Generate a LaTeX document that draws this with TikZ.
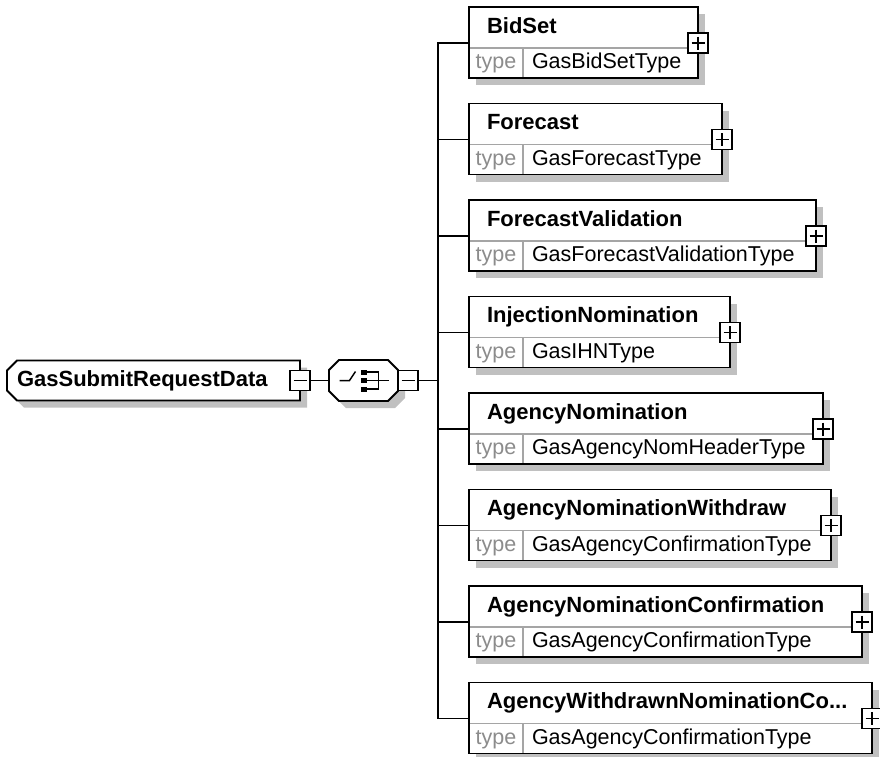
\documentclass[tikz,border=0pt]{standalone}
\usepackage{fontspec}
\setsansfont{Liberation Sans}
\usepackage{tikz}
\usetikzlibrary{positioning}
\usetikzlibrary{shadows}
\definecolor{shadowgray}{RGB}{192,192,192}
\definecolor{divgray}{RGB}{165,165,165}
\definecolor{labelgray}{RGB}{140,140,140}
\tikzset{
  every picture/.style={font={\sffamily}, line width=1.8pt},
  boxshadow/.style={general shadow={fill=shadowgray, shadow xshift=7pt, shadow yshift=-7pt}}}

\begin{document}
\begin{tikzpicture}[x=1pt, y=-1pt,
    root/.style={minimum width=293pt, minimum height=40pt, inner sep=0pt, outer sep=0pt,
      text width=273pt, align=left, text height=16pt, text depth=5pt,
      font={\sffamily\bfseries\fontsize{22pt}{24pt}\selectfont}},
    compositor/.style={minimum width=69pt, minimum height=41pt, inner sep=0pt, outer sep=0pt},
    outline/.style={draw, fill=white, boxshadow},
    elem/.style={draw, fill=white, boxshadow, anchor=north west, minimum height=41pt,
      inner xsep=18pt, inner ysep=0pt, outer sep=0pt, text width=#1, align=left,
      text height=16pt, text depth=5pt,
      font={\sffamily\bfseries\fontsize{22pt}{24pt}\selectfont}},
    typelbl/.style={draw=divgray, line width=1.5pt, fill=white, boxshadow, anchor=north west,
      minimum width=54pt, minimum height=30pt, inner sep=0pt, outer sep=0pt, text=labelgray,
      text height=15.5pt, text depth=4.5pt,
      font={\sffamily\fontsize{21.5pt}{24pt}\selectfont}},
    typeval/.style={draw=divgray, line width=1.5pt, fill=white, boxshadow, anchor=west,
      minimum height=30pt, inner xsep=9pt, inner ysep=0pt, outer sep=0pt, text width=#1,
      align=left, text height=15.5pt, text depth=4.5pt,
      font={\sffamily\fontsize{21.5pt}{24pt}\selectfont}},
    frame/.style={draw},
    expand/.style={draw, fill=white, minimum size=20pt, inner sep=0pt, outer sep=0pt, line width=1.5pt,
      path picture={\draw[line width=1.6pt]
        ([xshift=3.5pt]path picture bounding box.west) -- ([xshift=-3.5pt]path picture bounding box.east)
        ([yshift=-3.5pt]path picture bounding box.north) -- ([yshift=3.5pt]path picture bounding box.south);}},
    collapse/.style={draw, fill=white, minimum size=20pt, inner sep=0pt, outer sep=0pt, line width=1.5pt,
      path picture={\draw[line width=1.6pt]
        ([xshift=3.5pt]path picture bounding box.west) -- ([xshift=-3.5pt]path picture bounding box.east);}}]

    \useasboundingbox (0,0) rectangle (880,756);

    \node[root] (Root) at (7,380.5) [anchor=west] {};
    \path[outline] ([xshift=10pt]Root.north west) -- (Root.north east) -- (Root.south east)
      -- ([xshift=10pt]Root.south west) -- ([yshift=10pt]Root.south west)
      -- ([yshift=-10pt]Root.north west) -- cycle;
    \node[root] (RootT) at (Root.center) {GasSubmitRequestData};
    \node[collapse] (RootM) at (Root.east) {};

    \node[compositor] (Seq) [right=19pt of RootM] {};
    \path[outline] ([xshift=10pt]Seq.north west) -- ([xshift=-10pt]Seq.north east)
      -- ([yshift=-10pt]Seq.north east) -- ([yshift=10pt]Seq.south east)
      -- ([xshift=-10pt]Seq.south east) -- ([xshift=10pt]Seq.south west)
      -- ([yshift=10pt]Seq.south west) -- ([yshift=-10pt]Seq.north west) -- cycle;
    \node[collapse] (SeqM) [right=0pt of Seq] {};
    \coordinate (Bus) at ([xshift=20pt]SeqM.east);

    \draw[line width=1.5pt] ([shift={(-24,0)}]Seq.center) -- ([shift={(-14,0)}]Seq.center)
      -- ([shift={(-8,-9)}]Seq.center);
    \fill ([shift={(-3,-11)}]Seq.center) rectangle ([shift={(3,-6)}]Seq.center);
    \fill ([shift={(-3,-2.5)}]Seq.center) rectangle ([shift={(3,2.5)}]Seq.center);
    \fill ([shift={(-3,6)}]Seq.center) rectangle ([shift={(3,11)}]Seq.center);
    \draw[line width=1.5pt] ([shift={(3,-8.5)}]Seq.center) -| ([shift={(15,8.5)}]Seq.center)
      -- ([shift={(3,8.5)}]Seq.center);
    \draw[line width=1.5pt] ([shift={(3,0)}]Seq.center) -- ([shift={(25,0)}]Seq.center);

    \node[elem=193pt] (BidSet) at (469,7) {BidSet};
    \node[typelbl] (BidSetL) at (BidSet.south west) {type};
    \node[typeval=157pt] (BidSetV) [right=0pt of BidSetL] {GasBidSetType};

    \node[elem=217pt] (Forecast) [below=25.5pt of BidSetL.south west, anchor=north west] {Forecast};
    \node[typelbl] (ForecastL) at (Forecast.south west) {type};
    \node[typeval=181pt] (ForecastV) [right=0pt of ForecastL] {GasForecastType};

    \node[elem=311pt] (FcValid) [below=25.5pt of ForecastL.south west, anchor=north west] {ForecastValidation};
    \node[typelbl] (FcValidL) at (FcValid.south west) {type};
    \node[typeval=275pt] (FcValidV) [right=0pt of FcValidL] {GasForecastValidationType};

    \node[elem=225pt] (InjNom) [below=25.5pt of FcValidL.south west, anchor=north west] {InjectionNomination};
    \node[typelbl] (InjNomL) at (InjNom.south west) {type};
    \node[typeval=189pt] (InjNomV) [right=0pt of InjNomL] {GasIHNType};

    \node[elem=318pt] (AgNom) [below=25.5pt of InjNomL.south west, anchor=north west] {AgencyNomination};
    \node[typelbl] (AgNomL) at (AgNom.south west) {type};
    \node[typeval=282pt] (AgNomV) [right=0pt of AgNomL] {GasAgencyNomHeaderType};

    \node[elem=326pt] (AgNomW) [below=25.5pt of AgNomL.south west, anchor=north west] {AgencyNominationWithdraw};
    \node[typelbl] (AgNomWL) at (AgNomW.south west) {type};
    \node[typeval=290pt] (AgNomWV) [right=0pt of AgNomWL] {GasAgencyConfirmationType};

    \node[elem=357pt] (AgNomC) [below=25.5pt of AgNomWL.south west, anchor=north west] {AgencyNominationConfirmation};
    \node[typelbl] (AgNomCL) at (AgNomC.south west) {type};
    \node[typeval=321pt] (AgNomCV) [right=0pt of AgNomCL] {GasAgencyConfirmationType};

    \node[elem=367pt] (AgWNomC) [below=25.5pt of AgNomCL.south west, anchor=north west] {AgencyWithdrawnNominationCo...};
    \node[typelbl] (AgWNomCL) at (AgWNomC.south west) {type};
    \node[typeval=331pt] (AgWNomCV) [right=0pt of AgWNomCL] {GasAgencyConfirmationType};

    \path[frame] (BidSet.north west) rectangle (BidSetV.south east);
    \path[frame] (Forecast.north west) rectangle (ForecastV.south east);
    \path[frame] (FcValid.north west) rectangle (FcValidV.south east);
    \path[frame] (InjNom.north west) rectangle (InjNomV.south east);
    \path[frame] (AgNom.north west) rectangle (AgNomV.south east);
    \path[frame] (AgNomW.north west) rectangle (AgNomWV.south east);
    \path[frame] (AgNomC.north west) rectangle (AgNomCV.south east);
    \path[frame] (AgWNomC.north west) rectangle (AgWNomCV.south east);

    \node[expand] (BidSetP) at ([yshift=-36pt]BidSet.north east) {};
    \node[expand] (ForecastP) at ([yshift=-36pt]Forecast.north east) {};
    \node[expand] (FcValidP) at ([yshift=-36pt]FcValid.north east) {};
    \node[expand] (InjNomP) at ([yshift=-36pt]InjNom.north east) {};
    \node[expand] (AgNomP) at ([yshift=-36pt]AgNom.north east) {};
    \node[expand] (AgNomWP) at ([yshift=-36pt]AgNomW.north east) {};
    \node[expand] (AgNomCP) at ([yshift=-36pt]AgNomC.north east) {};
    \node[expand] (AgWNomCP) at ([yshift=-36pt]AgWNomC.north east) {};

    \draw (RootM) -- (Seq);
    \draw (SeqM) -- (Bus);
    \draw (Bus) |- (BidSetP -| BidSet.west);
    \draw (Bus) |- (ForecastP -| Forecast.west);
    \draw (Bus) |- (FcValidP -| FcValid.west);
    \draw (Bus) |- (InjNomP -| InjNom.west);
    \draw (Bus) |- (AgNomP -| AgNom.west);
    \draw (Bus) |- (AgNomWP -| AgNomW.west);
    \draw (Bus) |- (AgNomCP -| AgNomC.west);
    \draw (Bus) |- (AgWNomCP -| AgWNomC.west);
  \end{tikzpicture}
\end{document}
